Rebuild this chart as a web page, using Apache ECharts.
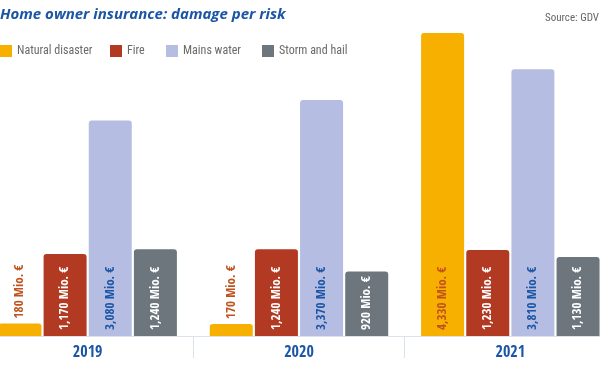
<!DOCTYPE html>
<html><head><meta charset="utf-8">
<script src="https://cdn.jsdelivr.net/npm/echarts@6/dist/echarts.min.js"></script>
<style>html,body{margin:0;padding:0;background:#fff;overflow:hidden;width:600px;height:381px}
#c{position:absolute;left:-18px;top:0;width:634px;height:381px}</style>
</head><body><div id="c"></div>
<script>
const years = ['2019', '2020', '2021'];
const seriesNames = ['Natural disaster', 'Fire', 'Mains water', 'Storm and hail'];
const naturalDisaster = [180, 170, 4330];
const fire = [1170, 1240, 1230];
const mainsWater = [3080, 3370, 3810];
const stormHail = [1240, 920, 1130];

const colors = ['#f8b000', '#b23a22', '#b5bde2', '#6c767c'];
const labelColors = ['#c0521c', '#ffffff', '#1b55a5', '#ffffff'];
const values = [naturalDisaster, fire, mainsWater, stormHail];
const LABEL_FONT = '"Open Sans Condensed", "Roboto Condensed", sans-serif';
const TEXT_FONT = '"Roboto Condensed", "DejaVu Sans Condensed", sans-serif';
const OFF = 18; // container is shifted left by this many px

function fmt(v) { return v.toLocaleString('en-US') + ' Mio. €'; }

const chart = echarts.init(document.getElementById('c'), null, {renderer: 'canvas'});
const legendLeft = [0, 110, 166, 262];
const series = seriesNames.map((name, i) => ({
  name: name,
  type: 'bar',
  barWidth: 43,
  barGap: '5%',
  barCategoryGap: '15%',
  itemStyle: {color: colors[i], borderRadius: [3, 3, 0, 0]},
  data: values[i].map(v => {
    const small = v < 500;
    return {
      value: v,
      label: {
        show: true,
        rotate: 90,
        position: small ? 'top' : 'insideBottom',
        align: 'left',
        verticalAlign: 'middle',
        distance: small ? 5 : 6,
        overflow: 'none',
        formatter: p => fmt(p.value),
        color: small ? '#c0521c' : labelColors[i],
        fontFamily: LABEL_FONT,
        fontWeight: 'bold',
        fontSize: 13
      }
    };
  })
}));

chart.setOption({
  animation: false,
  title: [{
    text: 'Home owner insurance: damage per risk',
    left: OFF, top: 7, padding: 0,
    textStyle: {color: '#1b55a5', fontFamily: '"Open Sans", sans-serif', fontStyle: 'italic', fontWeight: 'bold', fontSize: 15}
  }, {
    text: 'Source: GDV',
    right: 17, top: 13, padding: 0,
    textStyle: {color: '#666', fontFamily: TEXT_FONT, fontWeight: 'normal', fontSize: 11}
  }],
  legend: seriesNames.map((n, i) => ({
    data: [n],
    left: OFF + legendLeft[i], top: 45, padding: 0,
    itemWidth: 12, itemHeight: 12, itemGap: 0,
    icon: 'rect',
    selectedMode: false,
    textStyle: {color: '#6a6a6a', fontFamily: TEXT_FONT, fontSize: 12}
  })),
  grid: {left: 0, right: 0, top: 21, bottom: 45},
  xAxis: {
    type: 'category',
    data: years,
    axisLine: {lineStyle: {color: '#dde1ea', width: 1}},
    axisTick: {show: true, length: 22, lineStyle: {color: '#dde1ea'}},
    axisLabel: {color: '#1b55a5', fontFamily: LABEL_FONT, fontWeight: 'bold', fontSize: 16, margin: 9}
  },
  yAxis: {type: 'value', min: 0, max: 4500, show: false, splitLine: {show: false}},
  series: series
});
</script></body></html>
